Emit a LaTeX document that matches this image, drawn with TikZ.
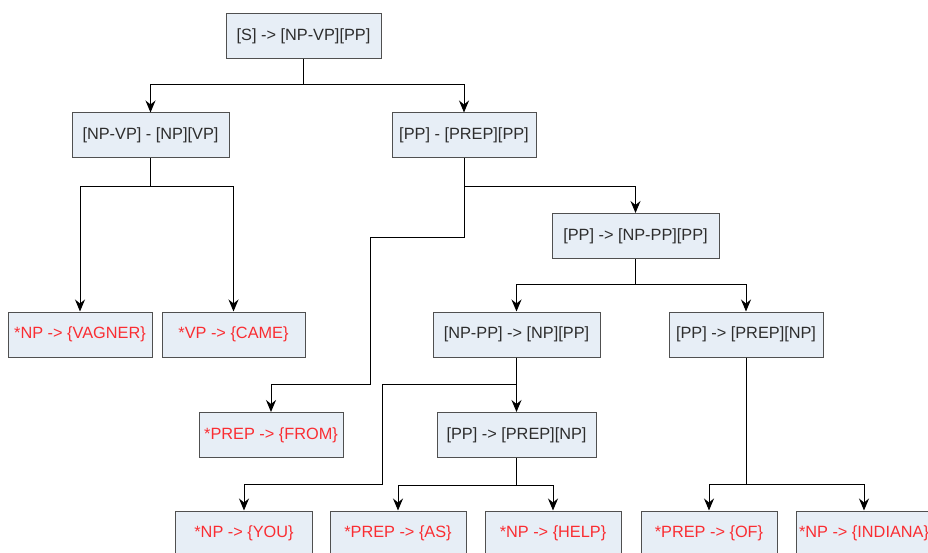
\documentclass[tikz,border=0pt]{standalone}
\usepackage{fontspec}
\setmainfont{Liberation Sans}
\usetikzlibrary{arrows.meta}
\definecolor{boxfill}{RGB}{231,238,246}
\definecolor{boxline}{RGB}{80,80,80}
\definecolor{rulered}{RGB}{250,45,50}
\definecolor{ruletext}{RGB}{45,45,45}

\begin{document}
\begin{tikzpicture}[x=1pt, y=-1pt,
    rule/.style={draw=boxline, fill=boxfill, line width=1pt, text=ruletext,
      font=\fontsize{16.3}{19}\selectfont, minimum height=45pt, inner sep=0pt},
    leaf/.style={rule, text=rulered},
    conn/.style={line width=1pt, -{Stealth[length=12pt, width=10pt, inset=4pt]}}]
      \clip (0,0) rectangle (928,553);

      \node[rule, minimum width=155pt] (s) at (303.5,36) {[S] -> [NP-VP][PP]};
      \node[rule, minimum width=157pt] (npvp) at (150.5,135.5) {[NP-VP] - [NP][VP]};
      \node[rule, minimum width=144pt] (pp1) at (464,135.5) {[PP] - [PREP][PP]};
      \node[rule, minimum width=167pt] (pp2) at (635.5,236) {[PP] -> [NP-PP][PP]};
      \node[leaf, minimum width=144pt] (vagner) at (80,334.5) {*NP -> \{VAGNER\}};
      \node[leaf, minimum width=143pt] (came) at (233.5,334.5) {*VP -> \{CAME\}};
      \node[rule, minimum width=167pt] (nppp) at (516.5,334.5) {[NP-PP] -> [NP][PP]};
      \node[rule, minimum width=154pt] (pp3) at (746,334.5) {[PP] -> [PREP][NP]};
      \node[leaf, minimum width=144pt] (from) at (271,435) {*PREP -> \{FROM\}};
      \node[rule, minimum width=159pt] (pp4) at (516.5,435) {[PP] -> [PREP][NP]};
      \node[leaf, minimum width=137pt] (you) at (244,533.5) {*NP -> \{YOU\}};
      \node[leaf, minimum width=136pt] (as) at (398,533.5) {*PREP -> \{AS\}};
      \node[leaf, minimum width=136pt] (help) at (553,533.5) {*NP -> \{HELP\}};
      \node[leaf, minimum width=136pt] (of) at (709,533.5) {*PREP -> \{OF\}};
      \node[leaf, minimum width=136pt] (indiana) at (864,533.5) {*NP -> \{INDIANA\}};

      \draw[conn] (s.south) -- ++(0,26) -| (npvp);
      \draw[conn] (s.south) -- ++(0,26) -| (pp1);
      \draw[conn] (npvp.south) -- ++(0,28) -| (vagner);
      \draw[conn] (npvp.south) -- ++(0,28) -| (came);
      \draw[conn] (pp1.south) -- ++(0,28) -| (pp2);
      \draw[conn] (pp1.south) -- ++(0,79) -| ++(-94,147) -| (from);
      \draw[conn] (pp2.south) -- ++(0,25) -| (nppp);
      \draw[conn] (pp2.south) -- ++(0,25) -| (pp3);
      \draw[conn] (nppp.south) -- (pp4);
      \draw[conn] (nppp.south) -- ++(0,27) -| ++(-134,100) -| (you);
      \draw[conn] (pp4.south) -- ++(0,27) -| (as);
      \draw[conn] (pp4.south) -- ++(0,27) -| (help);
      \draw[conn] (pp3.south) -- ++(0,127) -| (of);
      \draw[conn] (pp3.south) -- ++(0,127) -| (indiana);

    \end{tikzpicture}
\end{document}
